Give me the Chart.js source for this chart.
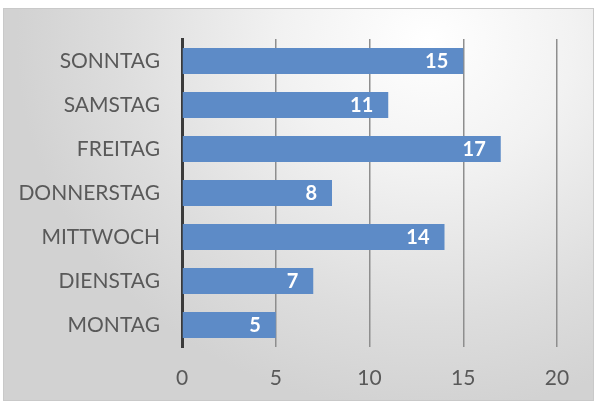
<!DOCTYPE html>
<html>
<head>
<meta charset="utf-8">
<script src="https://cdn.jsdelivr.net/npm/chart.js@4/dist/chart.umd.min.js"></script>
<style>
  html, body { margin: 0; padding: 0; background: #ffffff; }
  #frame {
    position: absolute; left: 3px; top: 8px; width: 589px; height: 391px;
    border: 1px solid #c9c9c9;
    background: radial-gradient(ellipse 70% 95% at 72% 8%, #ffffff 0%, #f2f2f2 35%, #dddddd 75%, #d2d2d2 100%);
  }
  #chart { position: absolute; left: 0; top: 0; }
</style>
</head>
<body>
<div id="frame"></div>
<canvas id="chart" width="595" height="404"></canvas>
<script>
// days from top to bottom as shown
const days = ['SONNTAG', 'SAMSTAG', 'FREITAG', 'DONNERSTAG', 'MITTWOCH', 'DIENSTAG', 'MONTAG'];
const counts = [15, 11, 17, 8, 14, 7, 5];
const xTicks = [0, 5, 10, 15, 20];

const fontFamily = 'Lato, "Open Sans", sans-serif';

// white value label at the inner end of each bar
const barValueLabels = {
  id: 'barValueLabels',
  afterDatasetsDraw: function (chart) {
    const ctx = chart.ctx;
    const meta = chart.getDatasetMeta(0);
    ctx.save();
    ctx.font = 'bold 20px ' + fontFamily;
    ctx.fillStyle = '#ffffff';
    ctx.textAlign = 'right';
    ctx.textBaseline = 'middle';
    meta.data.forEach(function (bar, i) {
      ctx.fillText(String(counts[i]), bar.x - 15, bar.y + 1);
    });
    ctx.restore();
  }
};

new Chart(document.getElementById('chart'), {
  type: 'bar',
  data: {
    labels: days,
    datasets: [{
      data: counts,
      backgroundColor: '#5d8bc7',
      borderWidth: 0,
      barPercentage: 0.59,
      categoryPercentage: 1
    }]
  },
  options: {
    indexAxis: 'y',
    responsive: false,
    animation: false,
    devicePixelRatio: 1,
    layout: { padding: { top: 39, right: 38, left: 0, bottom: 0 } },
    plugins: {
      legend: { display: false },
      tooltip: { enabled: false }
    },
    scales: {
      x: {
        min: 0,
        max: 20,
        afterBuildTicks: function (scale) {
          scale.ticks = xTicks.map(v => ({ value: v }));
        },
        afterFit: function (scale) { scale.height = 57; },
        grid: {
          drawTicks: false,
          color: c => (c.tick && c.tick.value === 0) ? 'rgba(0,0,0,0)' : '#8e8e8e',
          lineWidth: 1.5
        },
        border: { display: false },
        ticks: {
          padding: 19,
          color: '#595959',
          font: { family: fontFamily, size: 21 }
        }
      },
      y: {
        afterFit: function (scale) { scale.width = 182; },
        grid: { display: false, drawTicks: false },
        border: { display: true, color: '#3a3a3a', width: 3 },
        ticks: {
          padding: 22,
          color: '#595959',
          font: { family: fontFamily, size: 21 }
        }
      }
    }
  },
  plugins: [barValueLabels]
});
</script>
</body>
</html>
